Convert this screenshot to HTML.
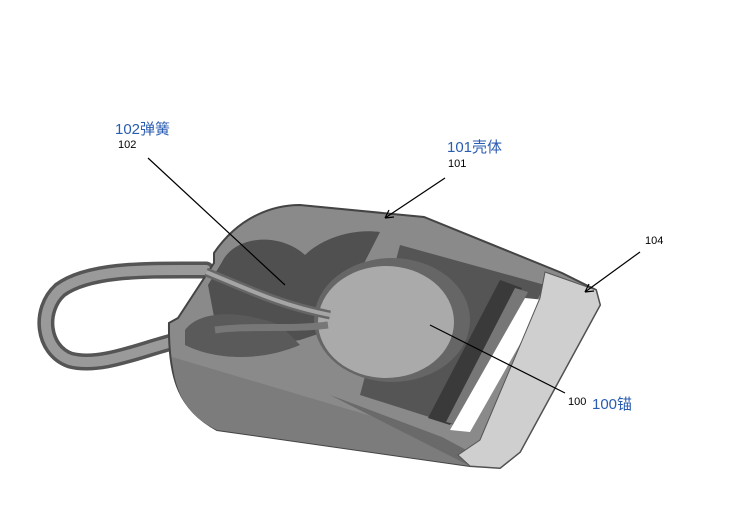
<!DOCTYPE html>
<html><head><meta charset="utf-8"><style>
body{margin:0;background:#fff;width:738px;height:510px;overflow:hidden}
svg{display:block}
</style></head><body>
<svg width="738" height="510" viewBox="0 0 738 510" xmlns="http://www.w3.org/2000/svg">
<!-- loop handle -->
<path d="M206,270 C150,270 90,268 60,290 C38,310 42,350 70,360 C100,368 140,350 172,342" fill="none" stroke="#555" stroke-width="17" stroke-linecap="round"/>
<path d="M206,270 C150,270 90,268 60,290 C38,310 42,350 70,360 C100,368 140,350 172,342" fill="none" stroke="#9a9a9a" stroke-width="10" stroke-linecap="round"/>
<!-- body -->
<path d="M214,253 C240,215 275,205 300,205 L424,217 L562,273 L596,290 L600,305 L520,452 L500,468 L470,466 L217,430 C180,410 168,380 169,323 L178,318 L214,263 Z" fill="#8a8a8a" stroke="#444" stroke-width="2"/>
<!-- lower front face -->
<path d="M172,357 L442,437 L470,466 L217,430 C185,415 174,390 172,357 Z" fill="#7c7c7c"/>
<path d="M330,395 L442,437 L500,468 L470,466 Z" fill="#6a6a6a"/>
<!-- left cavity -->
<path d="M222,262 C235,235 280,232 305,255 C320,240 350,228 380,232 L330,330 L300,340 C270,345 240,335 215,322 L208,285 Z" fill="#505050"/>
<path d="M185,330 C200,310 240,310 280,325 L300,345 C260,362 215,360 185,345 Z" fill="#5a5a5a"/>
<!-- right inner cavity -->
<path d="M400,245 L545,285 L470,430 L360,395 Z" fill="#555"/>
<!-- roller -->
<path d="M500,280 L522,288 L450,425 L428,418 Z" fill="#3a3a3a"/>
<path d="M515,288 L528,292 L458,425 L446,422 Z" fill="#777"/>
<!-- slot -->
<path d="M525,298 L545,300 L470,432 L450,430 Z" fill="#fff"/>
<!-- frame 104 -->
<path d="M545,272 L596,290 L600,305 L520,452 L500,468 L470,466 L458,455 L480,440 L540,298 Z" fill="#cfcfcf" stroke="#555" stroke-width="1"/>
<!-- disc -->
<ellipse cx="392" cy="320" rx="78" ry="62" fill="#666"/>
<ellipse cx="386" cy="322" rx="68" ry="56" fill="#aaa"/>
<!-- spring rod -->
<path d="M206,272 C250,290 280,305 330,315" fill="none" stroke="#666" stroke-width="9"/>
<path d="M206,272 C250,290 280,305 330,315" fill="none" stroke="#a5a5a5" stroke-width="4"/>
<path d="M215,330 C250,325 290,330 328,325" fill="none" stroke="#777" stroke-width="7"/>
<!-- leader lines -->
<g stroke="#000" stroke-width="1.2" fill="none">
<line x1="148" y1="158" x2="285" y2="285"/>
<line x1="445" y1="178" x2="385" y2="218"/>
<path d="M385,218 l4,-8 M385,218 l9,-1"/>
<line x1="640" y1="252" x2="585" y2="292"/>
<path d="M585,292 l4,-8 M585,292 l9,-1"/>
<line x1="565" y1="393" x2="430" y2="325"/>
</g>
<g font-family="'Liberation Sans','Noto Sans CJK SC',sans-serif">
<text x="115" y="134" font-size="15" fill="#2a5db0">102弹簧</text>
<text x="118" y="148" font-size="11" fill="#000">102</text>
<text x="447" y="152" font-size="15" fill="#2a5db0">101壳体</text>
<text x="448" y="167" font-size="11" fill="#000">101</text>
<text x="645" y="244" font-size="11" fill="#000">104</text>
<text x="568" y="405" font-size="11" fill="#000">100</text>
<text x="592" y="409" font-size="15" fill="#2a5db0">100锚</text>
</g>
</svg>
</body></html>
